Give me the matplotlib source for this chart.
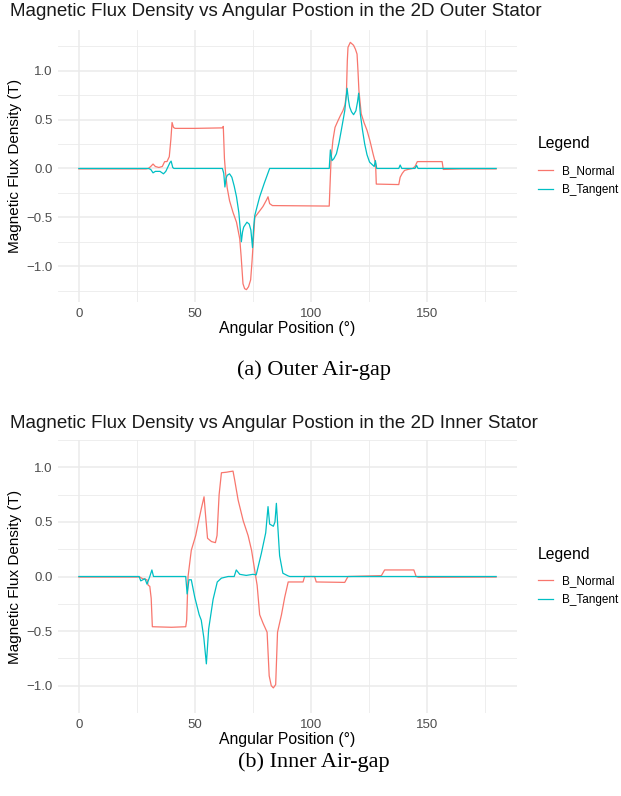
import numpy as np
import matplotlib
matplotlib.use("Agg")
import matplotlib.pyplot as plt

plt.rcParams['font.family'] = ['Liberation Sans', 'DejaVu Sans']

# outer air-gap, B_Normal
outer_normal_x = [0, 29, 30, 31, 32, 33, 34.5, 36, 37, 38, 39, 39.7, 40.2, 40.8, 41.5, 50, 61.9, 62.3,
                  62.8, 63.3, 64, 65, 66.5, 68, 69.4, 70, 70.8, 71.5, 72.3, 73.2, 74.1, 74.7, 75.1, 75.9,
                  77.5, 79.4, 81, 81.6, 82.3, 83.5, 108, 108.3, 108.8, 109.6, 110.5, 111.8, 113, 113.9,
                  114.8, 115.4, 115.8, 116.1, 117.1, 118.5, 119.3, 120, 120.4, 120.8, 121.8, 123, 124.3,
                  125.6, 126.9, 128, 128.3, 138, 138.6, 139.5, 140.5, 142, 144, 145, 146, 156.7, 157.2,
                  165, 180]
outer_normal_y = [-0.005, -0.005, 0.0, 0.02, 0.045, 0.02, 0.01, 0.02, 0.07, 0.07, 0.12, 0.3, 0.47, 0.42,
                  0.41, 0.41, 0.415, 0.43, 0.1, -0.05, -0.2, -0.33, -0.45, -0.55, -0.72, -0.9, -1.18,
                  -1.23, -1.24, -1.21, -1.14, -0.95, -0.8, -0.5, -0.45, -0.39, -0.32, -0.29, -0.36, -0.38,
                  -0.385, -0.2, 0.1, 0.29, 0.42, 0.49, 0.55, 0.59, 0.65, 0.76, 1.1, 1.24, 1.29, 1.26,
                  1.22, 1.17, 1.0, 0.8, 0.56, 0.47, 0.39, 0.28, 0.15, 0.05, -0.16, -0.165, -0.09, -0.05,
                  -0.02, -0.01, 0.0, 0.02, 0.07, 0.07, -0.01, -0.005, -0.005]

# outer air-gap, B_Tangent
outer_tangent_x = [0, 30, 31, 32, 33, 35, 36.5, 37.5, 38.5, 39.3, 39.8, 40.5, 41, 61.9, 62.5, 63, 63.5,
                   64, 65, 66, 67, 68, 69, 70.1, 70.6, 71.1, 72.5, 73.5, 74.2, 74.9, 75.4, 75.9, 77, 78,
                   80, 82.3, 108, 108.5, 109.2, 110, 111.1, 112.2, 113.2, 114.7, 115.7, 116.3, 116.8,
                   117.6, 118.5, 119.5, 120.2, 120.7, 121.4, 122.3, 123.3, 124.3, 125.4, 127.4, 127.9,
                   128.5, 138, 138.6, 139.3, 145, 145.7, 146.3, 180]
outer_tangent_y = [0.0, 0.0, -0.01, -0.045, -0.03, -0.03, -0.055, -0.03, 0.02, 0.06, 0.075, 0.01, 0.0,
                   0.0, -0.05, -0.19, -0.1, -0.07, -0.055, -0.09, -0.18, -0.29, -0.45, -0.75, -0.65,
                   -0.6, -0.55, -0.57, -0.63, -0.81, -0.6, -0.48, -0.38, -0.29, -0.15, 0.0, 0.0, 0.19,
                   0.08, 0.1, 0.15, 0.26, 0.39, 0.59, 0.82, 0.7, 0.63, 0.58, 0.55, 0.59, 0.68, 0.77,
                   0.56, 0.4, 0.25, 0.14, 0.065, 0.02, 0.08, 0.0, 0.0, 0.035, 0.0, 0.0, 0.03, 0.0, 0.0]

# inner air-gap, B_Normal
inner_normal_x = [0, 26.3, 27.5, 29.4, 29.9, 30.6, 31.2, 31.7, 40, 46.1, 46.5, 47.1, 48.5, 50.4, 51.7,
                  52.8, 54, 54.5, 55.5, 57.2, 58.9, 59.6, 60.5, 61.5, 63.7, 65, 66.5, 67.2, 68.7, 70.9,
                  73, 74.5, 75.9, 76.9, 78, 79.5, 81.2, 82.1, 83, 83.9, 84.9, 85.7, 87.4, 88.8, 90.3,
                  96.7, 97.4, 101.7, 102.4, 114.7, 116.1, 130.5, 131.9, 144.5, 145.5, 146.5, 180]
inner_normal_y = [-0.005, -0.005, -0.02, -0.03, -0.08, -0.09, -0.2, -0.46, -0.465, -0.46, -0.4, 0.0,
                  0.24, 0.375, 0.51, 0.62, 0.73, 0.6, 0.35, 0.32, 0.31, 0.375, 0.75, 0.95, 0.955, 0.96,
                  0.965, 0.885, 0.70, 0.51, 0.375, 0.24, 0.05, -0.08, -0.35, -0.43, -0.51, -0.91, -1.0,
                  -1.02, -0.99, -0.51, -0.35, -0.19, -0.05, -0.05, 0.0, 0.0, -0.05, -0.054, 0.0, 0.008,
                  0.06, 0.06, 0.0, -0.008, -0.005]

# inner air-gap, B_Tangent
inner_tangent_x = [0, 26, 26.7, 28.5, 29.4, 30.6, 31.5, 32.2, 46.1, 46.7, 47.5, 48.5, 50, 51.9, 52.8,
                   53.9, 55, 56, 57.9, 59.7, 61.5, 64.4, 67, 67.9, 69.4, 72.2, 75.1, 76.5, 78.7, 80.6,
                   81.6, 82.3, 83.9, 84.6, 85.2, 86.6, 88, 90.3, 91, 180]
inner_tangent_y = [0.0, 0.0, -0.04, -0.02, -0.07, 0.0, 0.06, 0.0, 0.0, -0.16, -0.03, -0.03, -0.19,
                   -0.35, -0.40, -0.56, -0.80, -0.48, -0.21, -0.05, -0.015, 0.0, 0.0, 0.06, 0.02, 0.01,
                   0.02, 0.015, 0.21, 0.40, 0.64, 0.48, 0.46, 0.50, 0.67, 0.19, 0.03, 0.005, 0.0, 0.0]

panels = [
    ("Magnetic Flux Density vs Angular Postion in the 2D Outer Stator", "(a) Outer Air-gap",
     outer_normal_x, outer_normal_y, outer_tangent_x, outer_tangent_y),
    ("Magnetic Flux Density vs Angular Postion in the 2D Inner Stator", "(b) Inner Air-gap",
     inner_normal_x, inner_normal_y, inner_tangent_x, inner_tangent_y),
]

W, H = 621, 796
fig = plt.figure(figsize=(W / 100, H / 100), dpi=100)

# panel boxes in pixels: (left, top, right, bottom)
boxes = [(58, 30, 517, 302), (58, 440, 517, 713)]
title_y = [12, 423]
caption_y = [370, 762]

for (title, caption, nx_, ny_, tx_, ty_), (l, t, r, b), ty, cy in zip(panels, boxes, title_y, caption_y):
    ax = fig.add_axes([l / W, 1 - b / H, (r - l) / W, (b - t) / H])
    ax.plot(nx_, ny_, color="#F8766D", lw=0.9, label="B_Normal")
    ax.plot(tx_, ty_, color="#00BFC4", lw=0.9, label="B_Tangent")

    ymin = min(min(ny_), min(ty_))
    ymax = max(max(ny_), max(ty_))
    pad = (ymax - ymin) * 0.05
    ax.set_xlim(-9, 189)
    ax.set_ylim(ymin - pad, ymax + pad)

    ax.set_xticks([0, 50, 100, 150])
    ax.set_xticks([25, 75, 125, 175], minor=True)
    ax.set_yticks([-1.0, -0.5, 0.0, 0.5, 1.0])
    ax.set_yticklabels(["\u22121.0", "\u22120.5", "0.0", "0.5", "1.0"])
    ax.set_yticks([-1.25, -0.75, -0.25, 0.25, 0.75, 1.25], minor=True)
    ax.grid(which="major", color="#EBEBEB", lw=1.1)
    ax.grid(which="minor", color="#EBEBEB", lw=0.6)
    ax.set_axisbelow(True)
    for s in ax.spines.values():
        s.set_visible(False)
    ax.tick_params(which="both", length=0, labelsize=9.5, labelcolor="#4D4D4D", pad=4)

    ax.set_xlabel("Angular Position (\u00b0)", fontsize=11.3, labelpad=1)
    ax.set_ylabel("Magnetic Flux Density (T)", fontsize=11, labelpad=3)

    leg = ax.legend(loc="center left", bbox_to_anchor=(1.03, 0.5), frameon=False, title="Legend",
                    fontsize=8.5, title_fontsize=11.3, handlelength=1.3, handletextpad=0.75,
                    labelspacing=0.6, borderaxespad=0.2)
    leg._legend_box.align = "left"
    leg._legend_box.sep = 10

    fig.text(10 / W, 1 - ty / H, title, fontsize=13.5, va="center", ha="left", color="#1A1A1A")
    fig.text(314 / W, 1 - cy / H, caption, fontsize=16, va="center", ha="center",
             family="Liberation Serif")

fig.savefig("out.png", dpi=100)
